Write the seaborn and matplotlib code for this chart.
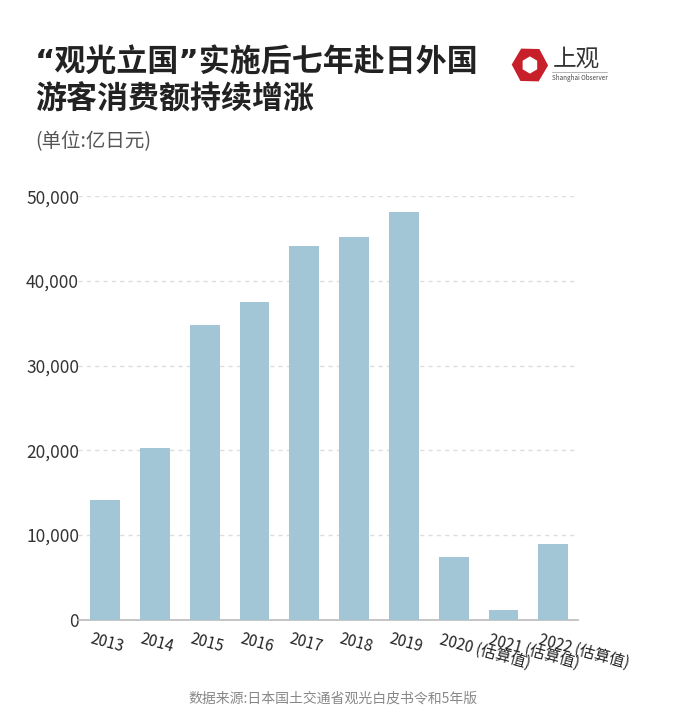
import matplotlib
matplotlib.use("Agg")
import matplotlib.pyplot as plt
import matplotlib.transforms as mtransforms
from matplotlib.patches import RegularPolygon
import pandas as pd
import seaborn as sns

# data (亿日元)
years = ["2013", "2014", "2015", "2016", "2017", "2018", "2019",
         "2020 (估算值)", "2021 (估算值)", "2022 (估算值)"]
spending = [14167, 20278, 34771, 37476, 44162, 45189, 48135, 7446, 1208, 8987]
yticks = [0, 10000, 20000, 30000, 40000, 50000]

df = pd.DataFrame({"year": years, "spending": spending})

sns.set_theme(style="white")
plt.rcParams["font.family"] = ["Noto Sans CJK SC", "DejaVu Sans"]

fig = plt.figure(figsize=(7, 7.19), dpi=100)
ax = fig.add_axes([0.111, 0.138, 0.715, 0.589])

sns.barplot(data=df, x="year", y="spending", color="#a3c6d6", width=0.6,
            saturation=1, ax=ax, zorder=3, edgecolor="none")

ax.set_ylim(0, 50000)
ax.set_xlim(-0.55, 9.5)
ax.set_yticks(yticks)
ax.set_yticklabels([f"{v:,}" for v in yticks], fontsize=12.5, color="#333333")
ax.yaxis.grid(True, linestyle=(0, (3, 3)), color="#dddddd", linewidth=1, zorder=0)
ax.set_xlabel("")
ax.set_ylabel("")

for s in ["top", "right", "left"]:
    ax.spines[s].set_visible(False)
ax.spines["bottom"].set_color("#bbbbbb")
ax.spines["bottom"].set_linewidth(1.2)

ax.tick_params(axis="y", length=0, pad=-1)
ax.tick_params(axis="x", length=4, color="#bbbbbb", width=1, direction="out", pad=4)

offset = mtransforms.ScaledTranslation(-12 / 100, 0, fig.dpi_scale_trans)
for lab in ax.get_xticklabels():
    lab.set_rotation(-15)
    lab.set_ha("left")
    lab.set_rotation_mode("anchor")
    lab.set_fontsize(11)
    lab.set_color("#222222")
    lab.set_transform(lab.get_transform() + offset)

# title block
title_fonts = ["DejaVu Sans", "Noto Sans CJK SC"]
fig.text(0.05, 0.914, "“观光立国”实施后七年赴日外国", fontsize=22.3, fontweight="heavy",
         color="#222222", va="center", family=title_fonts)
fig.text(0.05, 0.862, "游客消费额持续增涨", fontsize=22.3, fontweight="heavy",
         color="#222222", va="center", family=title_fonts)
fig.text(0.05, 0.803, "(单位:亿日元)", fontsize=14, color="#555555", va="center")

# logo
hexa = RegularPolygon((0.757, 0.9096), numVertices=6, radius=0.026, orientation=0.5,
                      transform=fig.transFigure, facecolor="#c8202a", edgecolor="none")
fig.patches.append(hexa)
inner = RegularPolygon((0.757, 0.9096), numVertices=6, radius=0.012, orientation=0.0,
                       transform=fig.transFigure, facecolor="white", edgecolor="none")
fig.patches.append(inner)
fig.text(0.789, 0.918, "上观", fontsize=17, color="#333333", va="center")
fig.add_artist(plt.Line2D([0.789, 0.867], [0.900, 0.900], transform=fig.transFigure,
                          color="#aaaaaa", linewidth=0.6))
fig.text(0.789, 0.8915, "Shanghai Observer", fontsize=4.5, color="#444444", va="center")

# source
fig.text(0.476, 0.029, "数据来源:日本国土交通省观光白皮书令和5年版", fontsize=10,
         color="#888888", ha="center", va="center")

fig.savefig("out.png", dpi=100)
